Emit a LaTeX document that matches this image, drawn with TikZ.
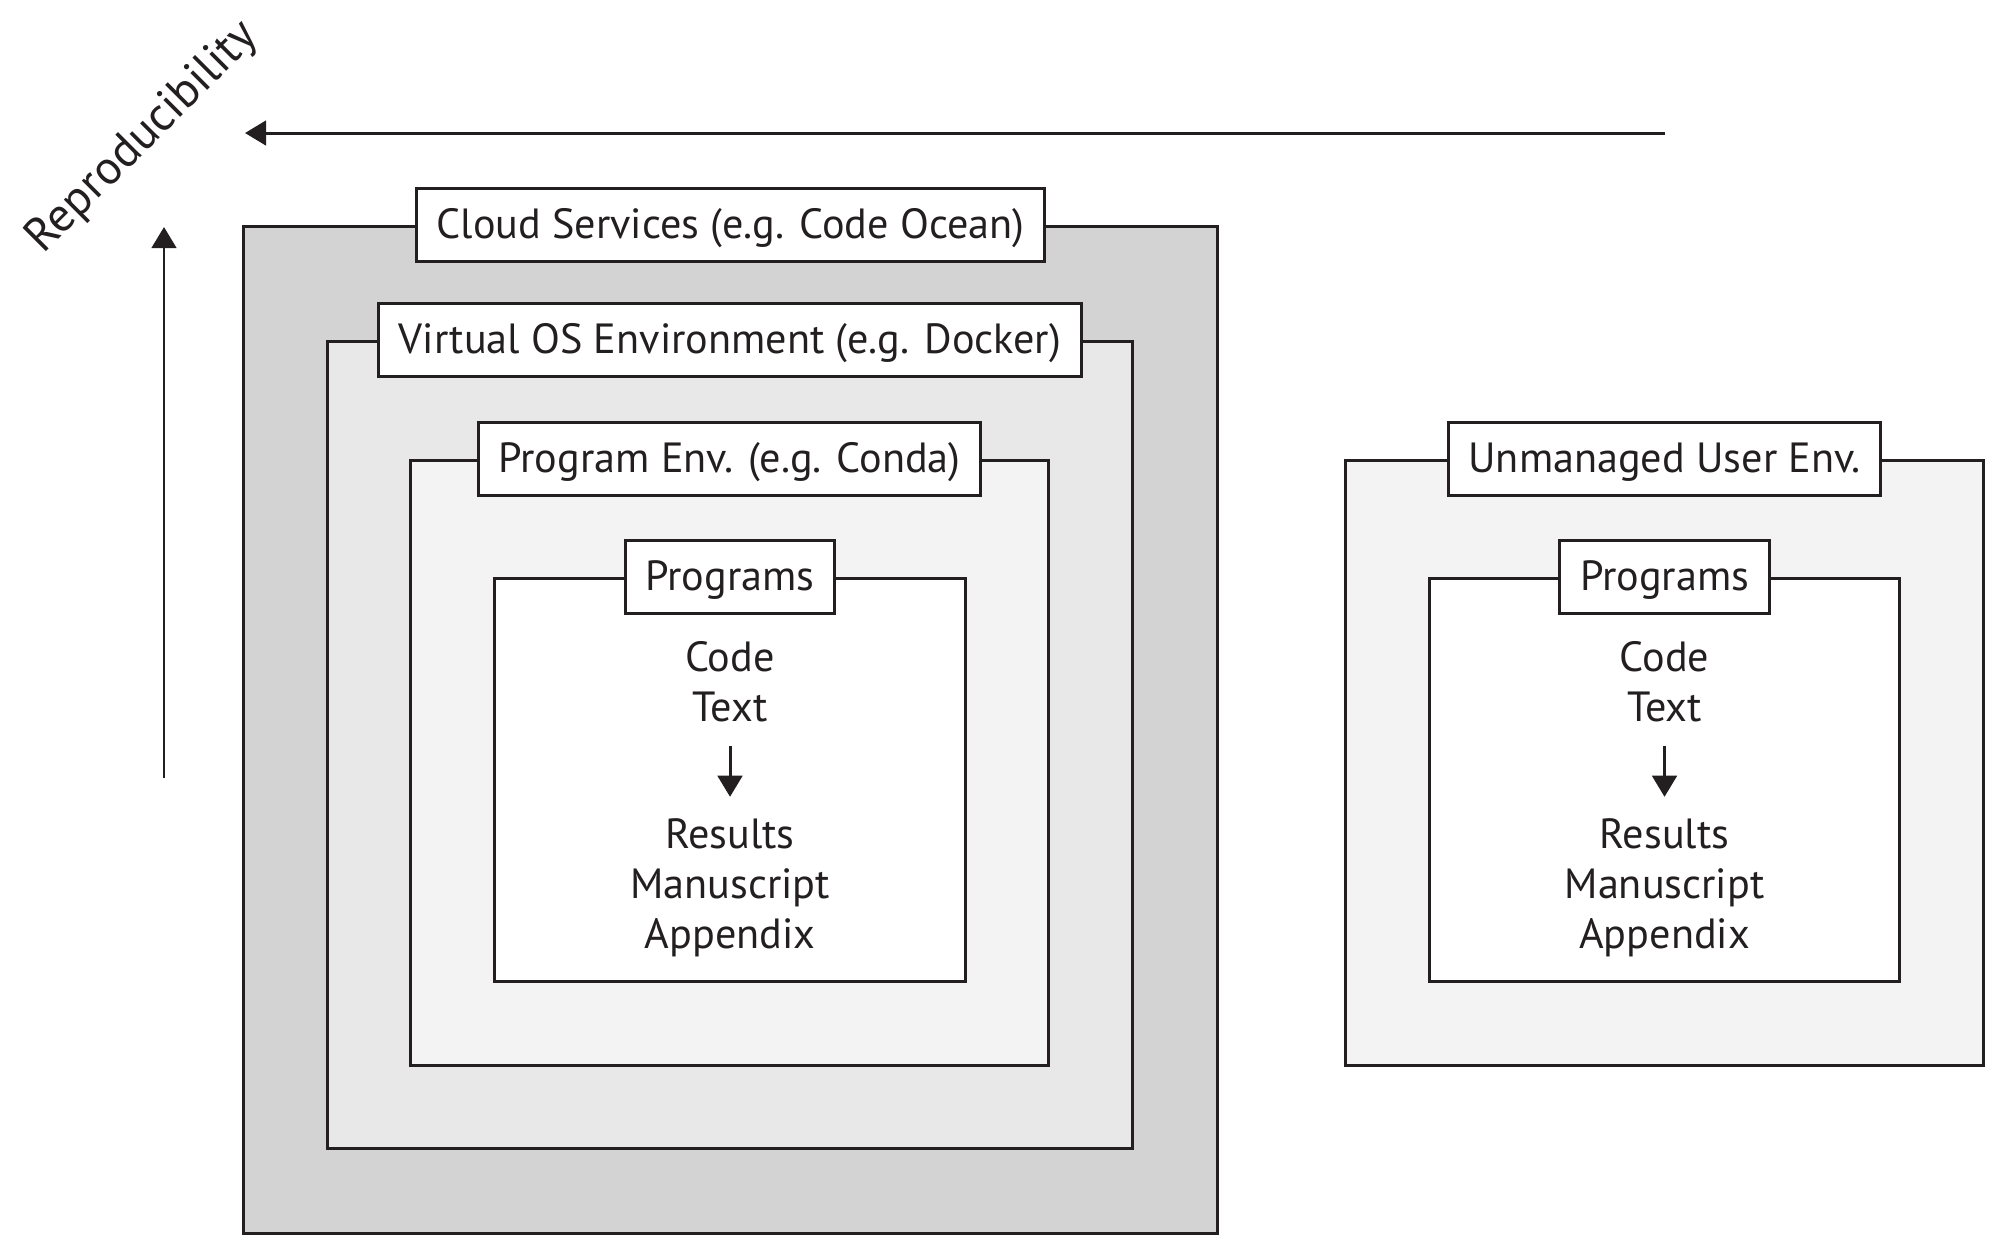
\documentclass[tikz,border=0pt]{standalone}
\usepackage{fontspec}
\setmainfont{PT Sans}
\usepackage{tikz}
\usetikzlibrary{shapes}
\usetikzlibrary{arrows.meta,positioning}
\definecolor{cloudgray}{RGB}{211,211,211}
\definecolor{vosgray}{RGB}{232,232,232}
\definecolor{envgray}{RGB}{243,243,243}
\definecolor{ink}{RGB}{35,31,32}
\tikzstyle{envbox}=[rectangle, draw=ink, line width=0.85pt, inner sep=0pt]
\tikzstyle{lbl}=[rectangle, draw=ink, fill=white, text=ink, line width=0.85pt, inner xsep=0.2cm, text height=0.75em, text depth=0pt, minimum height=0.73cm, font=\fontsize{12}{14.2}\selectfont]
\tikzstyle{txt}=[align=center, inner sep=0pt, text=ink, font=\fontsize{12}{14.2}\selectfont]

\begin{document}
\begin{tikzpicture}
 [x=0.01cm, y=-0.01cm, draw=ink, line width=0.85pt, >={Triangle[length=6pt,width=7pt]}]
 \useasboundingbox (0,0) rectangle (2004,1253);
 % managed environments, nested
 \node[envbox, fill=cloudgray, minimum width=9.73cm, minimum height=10.06cm] (cloud) at (730.5,730) {};
 \node[envbox, fill=vosgray, minimum width=8.04cm, minimum height=8.06cm] (vos) at (730,745) {};
 \node[envbox, fill=envgray, minimum width=6.37cm, minimum height=6.04cm] (penv) at (729.5,763) {};
 \node[envbox, fill=white, minimum width=4.70cm, minimum height=4.02cm] (prog) at (730,780) {};
 \node[lbl] (cloudlbl) at (cloud.north) {Cloud Services (e.g. Code Ocean)};
 \node[lbl] (voslbl) at (vos.north) {Virtual OS Environment (e.g. Docker)};
 \node[lbl] (penvlbl) at (penv.north) {Program Env. (e.g. Conda)};
 \node[lbl] (proglbl) at (prog.north) {Programs};
 \node[txt] (code) at (730,682) {Code\\Text};
 \node[txt] (results) [below=0.93cm of code] {Results\\Manuscript\\Appendix};
 % unmanaged environment
 \node[envbox, fill=envgray, minimum width=6.37cm, minimum height=6.04cm] (user) at (1664.5,763) {};
 \node[envbox, fill=white, minimum width=4.70cm, minimum height=4.02cm] (uprog) at (1664.5,780) {};
 \node[lbl] (userlbl) at (user.north) {Unmanaged User Env.};
 \node[lbl] (uproglbl) at (uprog.north) {Programs};
 \node[txt] (ucode) at (1664.5,682) {Code\\Text};
 \node[txt] (uresults) [below=0.93cm of ucode] {Results\\Manuscript\\Appendix};
 % axes
 \coordinate (hstart) at (1665,133);
 \coordinate (hend) at (245,133);
 \coordinate (vstart) at (164,778);
 \coordinate (vend) at (164,227);
 \node[txt, rotate=45, font=\fontsize{13.5}{16}\selectfont] (repro) at (143,138) {Reproducibility};
 \draw[->] (hstart) -- (hend);
 \draw[->] (vstart) -- (vend);
 \draw[->, shorten <=0.22cm, shorten >=0.2cm] (code) -- (results);
 \draw[->, shorten <=0.22cm, shorten >=0.2cm] (ucode) -- (uresults);
\end{tikzpicture}
\end{document}
